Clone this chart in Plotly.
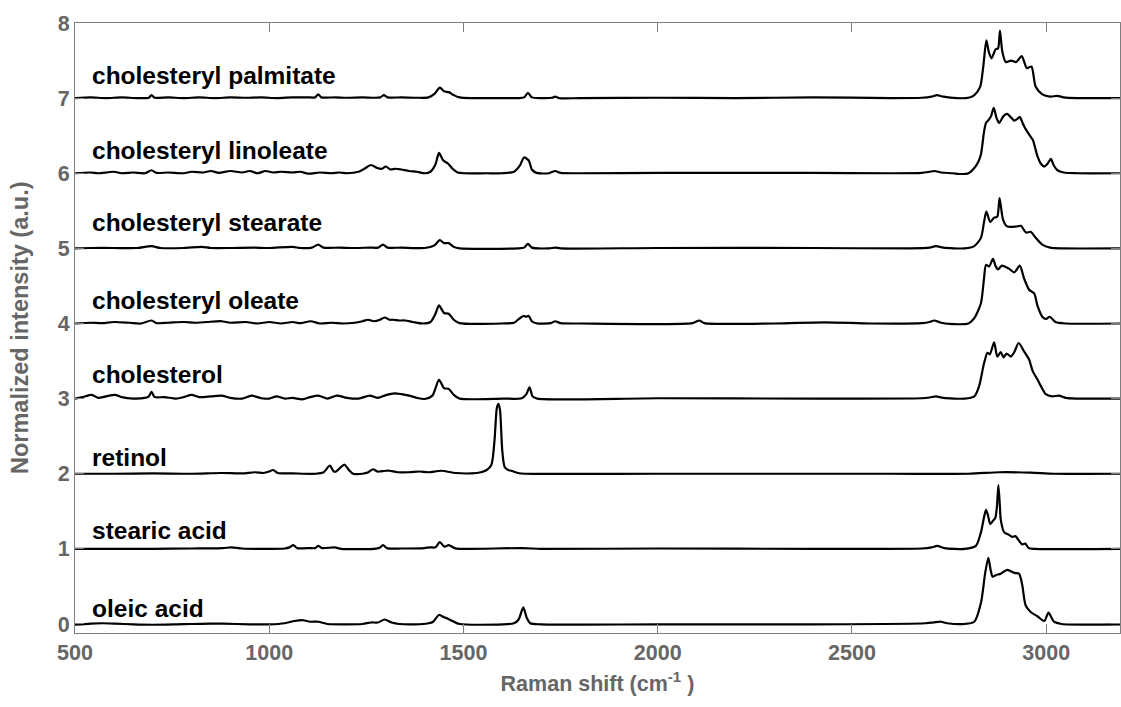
import plotly.graph_objects as go

# ---- data (Raman shift in cm-1, normalized intensity relative to each trace's baseline) ----
names = ["cholesteryl palmitate", "cholesteryl linoleate", "cholesteryl stearate",
         "cholesteryl oleate", "cholesterol", "retinol", "stearic acid", "oleic acid"]
offsets = [7, 6, 5, 4, 3, 2, 1, 0]
label_y = [7.30, 6.30, 5.34, 4.31, 3.32, 2.21, 1.25, 0.21]
label_x = [539, 539, 539, 539, 539, 539, 539, 539]

palm_x = [500, 540, 580, 620, 660, 690, 697, 705, 740, 780, 820, 860, 900, 940, 980, 1020, 1060, 1100, 1118, 1126, 1134,
          1170, 1200, 1240, 1270, 1286, 1295, 1305, 1340, 1380, 1410, 1426, 1439, 1450, 1462, 1475, 1490, 1520, 1560,
          1600, 1640, 1656, 1666, 1676, 1700, 1728, 1736, 1746, 1800, 2000, 2200, 2400, 2600, 2680, 2705, 2719, 2735,
          2770, 2800, 2815, 2830, 2838, 2846, 2852, 2859, 2870, 2876, 2881, 2887, 2896, 2910, 2923, 2937, 2950, 2962,
          2973, 2990, 3010, 3029, 3045, 3080, 3190]
palm_y = [0, 0.01, 0, 0.01, 0, 0.005, 0.04, 0.005, 0.01, 0, 0.01, 0, 0.01, 0.005, 0.01, 0, 0.01, 0.01, 0.01, 0.05, 0.01,
          0.01, 0.005, 0.01, 0.005, 0.01, 0.04, 0.01, 0.01, 0.005, 0.01, 0.06, 0.14, 0.09, 0.08, 0.04, 0.01, 0, 0,
          0, 0, 0.01, 0.07, 0.01, 0, 0.005, 0.02, 0, 0, 0.005, 0, 0.01, 0, 0.005, 0.02, 0.04, 0.02,
          0, 0.005, 0.04, 0.15, 0.42, 0.77, 0.62, 0.53, 0.65, 0.66, 0.90, 0.62, 0.48, 0.50, 0.48, 0.56, 0.40, 0.42,
          0.15, 0.05, 0.02, 0.03, 0.01, 0, 0]

lino_x = [500, 540, 560, 600, 620, 650, 680, 697, 710, 740, 780, 800, 830, 850, 870, 900, 930, 950, 970, 990, 1010, 1030,
          1060, 1080, 1100, 1130, 1160, 1180, 1200, 1230, 1245, 1262, 1278, 1290, 1300, 1312, 1325, 1340, 1360, 1380,
          1400, 1415, 1428, 1437, 1448, 1460, 1472, 1485, 1500, 1560, 1600, 1630, 1645, 1656, 1668, 1676, 1688, 1720,
          1736, 1750, 1800, 2000, 2200, 2400, 2600, 2680, 2700, 2712, 2730, 2760, 2776, 2800, 2815, 2825, 2832, 2840,
          2845, 2852, 2858, 2865, 2872, 2879, 2890, 2899, 2910, 2918, 2925, 2932, 2940, 2948, 2958, 2966, 2972, 2978,
          2986, 2995, 3004, 3012, 3020, 3029, 3045, 3080, 3190]
lino_y = [0, 0.01, 0.0, 0.02, 0.0, 0.01, 0.0, 0.04, 0.005, 0.01, 0.0, 0.02, 0.01, 0.03, 0.005, 0.03, 0.01, 0.03, 0.0, 0.03,
          0.01, 0.02, 0.01, 0.02, -0.005, 0.01, 0.0, 0.01, 0.0, 0.02, 0.06, 0.11, 0.07, 0.06, 0.09, 0.05, 0.06, 0.05, 0.03,
          0.02, 0.0, 0.02, 0.12, 0.27, 0.17, 0.13, 0.06, 0.01, 0, 0, 0.0, 0.02, 0.1, 0.21, 0.17, 0.05, 0.005, 0, 0.03,
          0.005, 0, 0.005, 0.005, 0.005, 0, 0.005, 0.02, 0.03, 0.01, 0.0, -0.01, 0.0, 0.07, 0.15, 0.25, 0.55, 0.67, 0.71,
          0.76, 0.87, 0.74, 0.67, 0.76, 0.79, 0.74, 0.70, 0.72, 0.75, 0.66, 0.58, 0.50, 0.44, 0.33, 0.22, 0.13, 0.09,
          0.13, 0.19, 0.10, 0.04, 0.01, 0, 0]

stea_x = [500, 540, 600, 660, 697, 720, 780, 826, 850, 900, 960, 1000, 1060, 1080, 1110, 1126, 1140, 1180, 1220, 1260,
          1280, 1293, 1305, 1340, 1400, 1425, 1439, 1450, 1462, 1475, 1490, 1640, 1656, 1666, 1676, 1720, 1736, 1750,
          2000, 2400, 2650, 2700, 2716, 2735, 2790, 2815, 2832, 2840, 2846, 2856, 2866, 2874, 2880, 2889, 2900, 2922,
          2935, 2948, 2960, 2973, 2990, 3010, 3040, 3190]
stea_y = [0, 0.005, 0.005, 0.005, 0.03, 0.005, 0.005, 0.02, 0.005, 0.005, 0.01, 0.005, 0.02, 0.005, 0.01, 0.05, 0.01,
          0.01, 0.005, 0.01, 0.01, 0.05, 0.01, 0.01, 0.005, 0.04, 0.11, 0.07, 0.07, 0.02, 0, 0, 0.01, 0.06, 0.01, 0,
          0.01, 0, 0.005, 0.005, 0, 0.01, 0.03, 0.01, 0, 0.03, 0.14, 0.35, 0.49, 0.35, 0.41, 0.42, 0.67, 0.38, 0.29,
          0.29, 0.30, 0.21, 0.22, 0.14, 0.05, 0.01, 0, 0]

olea_x = [500, 540, 570, 600, 640, 670, 697, 710, 740, 780, 810, 840, 877, 900, 940, 970, 1000, 1030, 1060, 1080, 1107,
          1130, 1160, 1190, 1220, 1240, 1254, 1270, 1285, 1297, 1310, 1319, 1335, 1350, 1370, 1395, 1415, 1427, 1437,
          1450, 1462, 1475, 1490, 1600, 1630, 1645, 1655, 1662, 1668, 1676, 1690, 1725, 1736, 1750, 1800, 2090, 2107,
          2120, 2300, 2430, 2550, 2680, 2700, 2712, 2730, 2776, 2800, 2815, 2832, 2840, 2845, 2853, 2863, 2870, 2876,
          2886, 2904, 2918, 2932, 2943, 2956, 2969, 2978, 2990, 3000, 3009, 3024, 3050, 3190]
olea_y = [0, 0.01, 0.005, 0.02, 0.01, 0.0, 0.04, 0.005, 0.01, 0.02, 0.01, 0.02, 0.03, 0.01, 0.02, 0.0, 0.02, 0.0, 0.02,
          0.005, 0.03, 0.0, 0.01, 0.0, 0.01, 0.03, 0.05, 0.03, 0.05, 0.08, 0.05, 0.05, 0.04, 0.04, 0.02, 0.0, 0.02, 0.12,
          0.24, 0.14, 0.13, 0.05, 0.005, 0, 0.01, 0.07, 0.10, 0.09, 0.10, 0.03, 0.0, 0.005, 0.03, 0.005, 0, 0.005, 0.04,
          0.005, 0.0, 0.015, 0.0, 0.005, 0.02, 0.04, 0.01, -0.01, 0.0, 0.07, 0.27, 0.6, 0.78, 0.76, 0.86, 0.76, 0.72,
          0.77, 0.73, 0.68, 0.77, 0.60, 0.45, 0.40, 0.23, 0.09, 0.06, 0.09, 0.02, 0, 0]

chol_x = [500, 520, 543, 560, 580, 603, 620, 650, 680, 690, 697, 705, 730, 760, 780, 800, 820, 850, 877, 900, 930, 954,
          980, 1000, 1019, 1040, 1060, 1085, 1105, 1126, 1150, 1174, 1200, 1230, 1259, 1280, 1302, 1323, 1340, 1360,
          1380, 1400, 1420, 1437, 1450, 1462, 1475, 1490, 1600, 1650, 1662, 1670, 1678, 1690, 2000, 2400, 2680, 2700,
          2716, 2735, 2790, 2815, 2827, 2840, 2849, 2855, 2866, 2874, 2883, 2890, 2898, 2909, 2918, 2929, 2943, 2956,
          2965, 2978, 2986, 2999, 3015, 3033, 3050, 3190]
chol_y = [0, 0.02, 0.05, 0.01, 0.03, 0.05, 0.02, 0.0, 0.01, 0.03, 0.09, 0.02, 0.02, 0.0, 0.02, 0.05, 0.02, 0.03, 0.04,
          0.01, 0.0, 0.04, 0.005, 0.0, 0.03, 0.0, 0.01, -0.01, 0.02, 0.04, 0.0, 0.04, 0.01, 0.0, 0.04, 0.01, 0.05, 0.07,
          0.06, 0.04, 0.01, -0.005, 0.04, 0.25, 0.14, 0.13, 0.05, 0, 0, 0.005, 0.06, 0.15, 0.03, 0, 0.005, 0.0, 0.005,
          0.015, 0.03, 0.01, 0, 0.03, 0.16, 0.47, 0.61, 0.59, 0.75, 0.56, 0.62, 0.55, 0.60, 0.56, 0.62, 0.74, 0.63,
          0.52, 0.37, 0.25, 0.17, 0.06, 0.03, 0.04, 0.01, 0]

reti_x = [500, 600, 700, 800, 877, 930, 963, 985, 1000, 1010, 1022, 1060, 1120, 1140, 1156, 1166, 1172, 1185, 1194, 1205,
          1216, 1240, 1255, 1267, 1278, 1284, 1300, 1310, 1330, 1360, 1387, 1410, 1443, 1480, 1520, 1545, 1560, 1572,
          1580, 1586, 1590, 1594, 1600, 1606, 1615, 1623, 1640, 1660, 2000, 2600, 2800, 2880, 2960, 3020, 3190]
reti_y = [0, 0.0, 0.005, 0.0, 0.01, 0.005, 0.02, 0.01, 0.03, 0.05, 0.01, 0.005, 0.0, 0.02, 0.11, 0.03, 0.03, 0.09, 0.12,
          0.05, 0.0, 0.0, 0.02, 0.06, 0.03, 0.03, 0.04, 0.04, 0.02, 0.02, 0.03, 0.02, 0.04, 0.01, 0.005, 0.02, 0.05,
          0.12, 0.45, 0.88, 0.93, 0.85, 0.3, 0.09, 0.05, 0.04, 0.01, 0, 0.0, 0.0, 0.0, 0.02, 0.015, 0.0, 0]

stac_x = [500, 600, 700, 800, 880, 903, 930, 1000, 1040, 1052, 1062, 1072, 1105, 1118, 1126, 1136, 1169, 1185, 1270,
          1283, 1293, 1303, 1340, 1400, 1413, 1428, 1439, 1451, 1462, 1477, 1490, 1652, 1700, 2000, 2400, 2680, 2705,
          2720, 2738, 2790, 2819, 2832, 2840, 2845, 2850, 2856, 2864, 2869, 2873, 2877, 2881, 2883, 2892, 2903, 2913,
          2921, 2927, 2938, 2946, 2955, 2970, 3190]
stac_y = [0, 0, 0, 0.005, 0.01, 0.02, 0.005, 0, 0.005, 0.02, 0.05, 0.01, 0.01, 0.01, 0.04, 0.01, 0.02, 0.0, 0.0, 0.01,
          0.05, 0.01, 0.005, 0.01, 0.02, 0.02, 0.09, 0.03, 0.05, 0.01, 0, 0.01, 0, 0.005, 0.0, 0.005, 0.02, 0.04,
          0.01, 0, 0.04, 0.22, 0.42, 0.52, 0.45, 0.33, 0.38, 0.41, 0.55, 0.85, 0.55, 0.39, 0.22, 0.19, 0.16, 0.17,
          0.13, 0.06, 0.07, 0.01, 0.0, 0]

olac_x = [500, 540, 570, 603, 650, 700, 760, 800, 850, 880, 950, 1000, 1040, 1065, 1087, 1105, 1126, 1150, 1200, 1240,
          1262, 1280, 1297, 1315, 1335, 1375, 1410, 1422, 1437, 1450, 1460, 1472, 1490, 1600, 1630, 1642, 1654, 1663,
          1672, 1700, 2000, 2400, 2690, 2710, 2729, 2745, 2790, 2815, 2832, 2843, 2851, 2857, 2862, 2870, 2883, 2900,
          2918, 2930, 2935, 2939, 2947, 2960, 2978, 2995, 3006, 3020, 3040, 3190]
olac_y = [-0.01, 0.005, 0.01, 0.005, -0.005, -0.01, -0.005, 0.0, 0.005, 0.005, -0.005, -0.005, 0.01, 0.04, 0.05, 0.03,
          0.03, 0.0, -0.005, 0.0, 0.02, 0.02, 0.06, 0.02, 0.0, -0.005, 0.01, 0.03, 0.12, 0.09, 0.07, 0.04, 0.0, -0.005,
          0.01, 0.06, 0.22, 0.08, 0.01, -0.005, -0.005, -0.005, 0.01, 0.02, 0.03, 0.01, 0.0, 0.03, 0.28, 0.68, 0.88,
          0.72, 0.63, 0.65, 0.67, 0.72, 0.68, 0.67, 0.6, 0.50, 0.25, 0.16, 0.10, 0.04, 0.15, 0.03, 0.0, -0.005]

xs = [palm_x, lino_x, stea_x, olea_x, chol_x, reti_x, stac_x, olac_x]
ys = [palm_y, lino_y, stea_y, olea_y, chol_y, reti_y, stac_y, olac_y]

x_ticks = [500, 1000, 1500, 2000, 2500, 3000]
y_ticks = [0, 1, 2, 3, 4, 5, 6, 7, 8]

fig = go.Figure()
for name, off, x, y in zip(names, offsets, xs, ys):
    fig.add_trace(go.Scatter(
        x=x, y=[off + v for v in y], mode="lines", name=name,
        line=dict(color="black", width=2.2, shape="spline", smoothing=0.7),
        hoverinfo="skip", showlegend=False))

for name, lx, ly in zip(names, label_x, label_y):
    fig.add_annotation(x=lx, y=ly, text=name, showarrow=False, xanchor="left", yanchor="middle",
                       font=dict(family="Arial, Liberation Sans", size=24.5, color="black", weight="bold"))

axis_col = "#7f7f7f"
tick_font = dict(family="Arial, Liberation Sans", size=21.5, color="#666666", weight="bold")
title_font = dict(family="Arial, Liberation Sans", size=21.5, color="#666666", weight="bold")
ytitle_font = dict(family="Arial, Liberation Sans", size=23.5, color="#666666", weight="bold")

fig.update_xaxes(range=[500, 3190], tickvals=x_ticks, ticks="inside", ticklen=9, tickwidth=1, tickcolor=axis_col,
                 showline=True, linecolor=axis_col, linewidth=1.2, mirror="ticks", showgrid=False, zeroline=False,
                 tickfont=tick_font, title=dict(text="Raman shift (cm<sup>-1</sup> )", font=title_font, standoff=12))
fig.update_yaxes(range=[-0.12, 8], tickvals=y_ticks, ticks="inside", ticklen=9, tickwidth=1, tickcolor=axis_col,
                 showline=True, linecolor=axis_col, linewidth=1.2, mirror="ticks", showgrid=False, zeroline=False,
                 tickfont=tick_font)

# y-axis title placed explicitly to match the reference position
fig.add_annotation(xref="paper", yref="paper", x=(20 - 75) / 1045, y=0.5, text="Normalized intensity (a.u.)",
                   textangle=-90, showarrow=False, xanchor="center", yanchor="middle", font=ytitle_font)

fig.update_layout(width=1121, height=707, margin=dict(l=75, r=1, t=23, b=74),
                  plot_bgcolor="white", paper_bgcolor="white")

fig.write_html("out.html")
